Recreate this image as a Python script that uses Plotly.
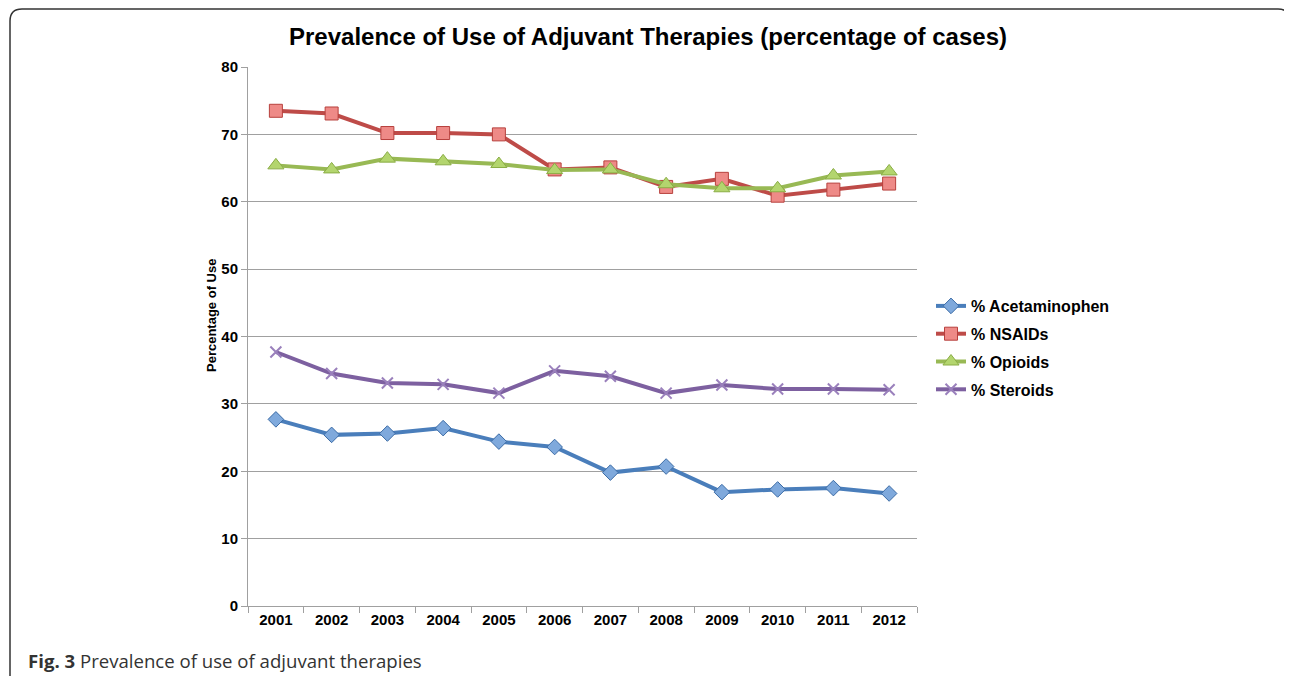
import plotly.graph_objects as go

years = [2001, 2002, 2003, 2004, 2005, 2006, 2007, 2008, 2009, 2010, 2011, 2012]
acetaminophen = [27.7, 25.4, 25.6, 26.4, 24.4, 23.6, 19.8, 20.7, 16.9, 17.3, 17.5, 16.7]
nsaids = [73.5, 73.1, 70.2, 70.2, 70.0, 64.8, 65.1, 62.2, 63.4, 60.9, 61.8, 62.7]
opioids = [65.4, 64.8, 66.4, 66.0, 65.6, 64.7, 64.8, 62.6, 62.0, 62.0, 63.9, 64.5]
steroids = [37.7, 34.5, 33.1, 32.9, 31.6, 34.9, 34.1, 31.6, 32.8, 32.2, 32.2, 32.1]

series = [
    ("% Acetaminophen", acetaminophen, "#4A7EBB", "diamond", "#7FA9DC", "#3C6CA6", 12),
    ("% NSAIDs", nsaids, "#BE4B48", "square", "#EE8A87", "#B7403D", 13),
    ("% Opioids", opioids, "#98B954", "triangle-up", "#B3D56E", "#8AAD45", 14),
    ("% Steroids", steroids, "#7D60A0", "x-thin", "#9A80BC", "#9A80BC", 11),
]

# page has an 8px body margin; work in page pixels and convert
OFF = 8
W, H = 1292 - OFF, 676 - OFF
L, R, T, B = 248 - OFF, 917 - OFF, 67 - OFF, 606 - OFF

fig = go.Figure()
for i, (name, vals, color, sym, fill, edge, size) in enumerate(series):
    fig.add_trace(go.Scatter(
        x=years, y=vals, name=f"<b>{name}</b>", mode="lines+markers", legendgroup=f"g{i}",
        line=dict(color=color, width=4),
        marker=dict(symbol=sym, size=size, color=fill,
                    line=dict(color=edge, width=2 if sym == "x-thin" else 1)),
    ))

def px(xpage):
    return (xpage - OFF - L) / (R - L)

def py(ypage):
    return (B - (ypage - OFF)) / (B - T)

# rounded frame
x0, x1 = px(10), px(1290)
yt, yb = py(9), py(720)
rx, ry = 12 / (R - L), 12 / (B - T)
path = (f"M {x0},{yb} L {x0},{yt - ry} Q {x0},{yt} {x0 + rx},{yt} "
        f"L {x1 - rx},{yt} Q {x1},{yt} {x1},{yt - ry} L {x1},{py(40)}")
fig.add_shape(type="path", xref="paper", yref="paper", path=path,
              line=dict(color="#333333", width=1.5))

fig.add_annotation(
    xref="paper", yref="paper", x=px(26), y=py(661), xanchor="left", yanchor="middle",
    text="<b>Fig. 3</b> Prevalence of use of adjuvant therapies", showarrow=False,
    font=dict(family="Open Sans, Noto Sans, sans-serif", size=18.6, color="#333333"),
)

fig.add_annotation(
    xref="paper", yref="paper", x=px(211), y=py(316), xanchor="center", yanchor="middle",
    text="<b>Percentage of Use</b>", textangle=-90, showarrow=False,
    font=dict(family="Liberation Sans, Arial, sans-serif", size=13, color="black"),
)

fig.update_layout(
    width=W, height=H,
    margin=dict(l=L, r=W - R, t=T, b=H - B),
    paper_bgcolor="white", plot_bgcolor="white",
    title=dict(text="<b>Prevalence of Use of Adjuvant Therapies (percentage of cases)</b>",
               xref="container", x=(648 - OFF) / W, xanchor="center",
               yref="container", y=1 - (37 - OFF) / H, yanchor="middle",
               font=dict(family="Liberation Sans, Arial, sans-serif", size=24, color="black")),
    font=dict(family="Liberation Sans, Arial, sans-serif", color="black"),
    showlegend=True,
    legend=dict(x=px(931), y=py(289), xanchor="left", yanchor="top",
                font=dict(size=16, color="black", family="Liberation Sans, Arial, sans-serif"),
                bgcolor="rgba(0,0,0,0)", itemwidth=30, tracegroupgap=4),
)

fig.update_xaxes(
    range=[2000.5, 2012.5], tickmode="array", tickvals=years,
    ticktext=[f"<b>{y}</b>" for y in years], ticks="",
    tickfont=dict(size=15), showgrid=False, zeroline=False,
    showline=True, linecolor="#A0A0A0", linewidth=1,
    minor=dict(tick0=2000.5, dtick=1, ticks="outside", ticklen=6, tickcolor="#A0A0A0", showgrid=False),
)
fig.update_yaxes(
    range=[0, 80], tickmode="array", tickvals=list(range(0, 81, 10)),
    ticktext=[f"<b>{v}</b>" for v in range(0, 81, 10)],
    tickfont=dict(size=15), ticks="outside", ticklen=6, tickcolor="#A0A0A0",
    showgrid=True, gridcolor="#A0A0A0", gridwidth=1, zeroline=False,
    showline=True, linecolor="#A0A0A0", linewidth=1,
)

fig.write_html("out.html")
